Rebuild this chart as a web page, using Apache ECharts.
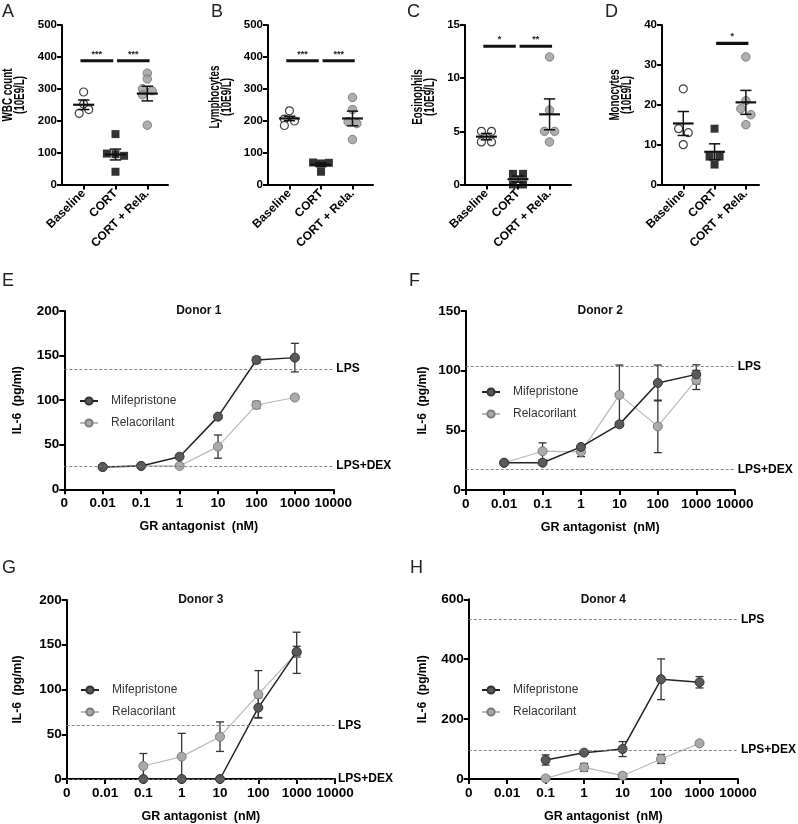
<!DOCTYPE html>
<html><head><meta charset="utf-8">
<script src="https://cdn.jsdelivr.net/npm/echarts@6/dist/echarts.min.js"></script>
<style>html,body{margin:0;padding:0;background:#fff}#c{width:798px;height:824px}</style>
</head><body><div id="c"></div>
<script>
// ---------- categories ----------
const groups = ['Baseline', 'CORT', 'CORT + Rela.'];
// ---------- A: WBC count ----------
const wbcBaseline = [290, 252, 235, 223];
const wbcCort = [158, 97, 95, 90, 40];
const wbcRela = [349, 331, 300, 294, 281, 186];
const wbcJitter = [[0, 0, 0.16, -0.14], [0, -0.27, 0, 0.27, 0], [0, 0, -0.15, 0.15, -0.15, 0]];
const wbcMean = [250, 94, 285];
const wbcSem = [15, 17, 23];
const wbcSig = [[0.9, 1.93, 388, '***'], [2.05, 3.07, 388, '***']];
// ---------- B: Lymphocytes ----------
const lymBaseline = [231, 205, 199, 185];
const lymCort = [69, 66, 68, 40];
const lymRela = [273, 235, 197, 191, 141];
const lymJitter = [[0, -0.16, 0.16, -0.16], [-0.25, 0, 0.25, 0], [0, 0, -0.14, 0.14, 0]];
const lymMean = [207, 62, 207];
const lymSem = [7, 6, 23];
const lymSig = [[0.9, 1.93, 388, '***'], [2.05, 3.07, 388, '***']];
// ---------- C: Eosinophils ----------
const eosBaseline = [5, 5, 4, 4];
const eosCort = [1, 1, 0, 0];
const eosRela = [12, 7, 5, 5, 4];
const eosJitter = [[-0.16, 0.16, -0.16, 0.16], [-0.16, 0.16, -0.16, 0.16], [0, 0, -0.16, 0.16, 0]];
const eosMean = [4.5, 0.5, 6.6];
const eosSem = [0.3, 0.29, 1.45];
const eosSig = [[0.9, 1.93, 13, '*'], [2.05, 3.08, 13, '**']];
// ---------- D: Monocytes ----------
const monoBaseline = [24, 14, 13, 10];
const monoCort = [14, 7, 7, 5];
const monoRela = [32, 21, 19, 17.5, 15];
const monoJitter = [[0, -0.15, 0.16, 0], [0, -0.16, 0.16, 0], [0, 0, -0.16, 0.16, 0]];
const monoMean = [15.3, 8.2, 20.6];
const monoSem = [3, 2, 3];
const monoSig = [[2.05, 3.08, 35.4, '*']];

// ---------- E-H: IL-6 vs GR antagonist ----------
const concX = [0.01, 0.1, 1, 10, 100, 1000];
const concXLabels = ['0', '0.01', '0.1', '1', '10', '100', '1000', '10000'];
const mifeE = [25, 26.2, 36.6, 81.5, 145, 147.7];
const mifeEErr = [0, 0, 0, 0, 3.5, 16];
const relaE = [25, 26.2, 26.2, 47.9, 94.6, 103];
const relaEErr = [0, 0, 0, 13, 4, 0];
const lpsE = 135, lpsDexE = 26.2;

const mifeF = [22.8, 22.8, 36.1, 55, 89.7, 96.9];
const mifeFErr = [0, 0, 0, 2, 15, 8];
const relaF = [22.8, 32.5, 32, 79.7, 53.3, 92.2];
const relaFErr = [0, 7, 4, 25, 22, 8];
const lpsF = 103.3, lpsDexF = 17.2;

const concXGH = [0.1, 1, 10, 100, 1000];
const mifeG = [0, 0, 0, 79.7, 142.3];
const mifeGErr = [0, 0, 0, 11, 6];
const relaG = [14.5, 25, 47.3, 94.6, 141];
const relaGErr = [14, 26, 16.5, 26.5, 23];
const lpsG = 60, lpsDexG = 0;

const mifeH = [63.5, 88, 100, 333, 323];
const mifeHErr = [17, 5, 25, 68, 19];
const relaH = [2, 39, 11, 67, 119];
const relaHErr = [0, 13, 8, 15, 0];
const lpsH = 533, lpsDexH = 97;

// ================= build =================
const FONT = 'Arial';
const grids = [], xAxes = [], yAxes = [], series = [], legends = [], graphics = [];

const groupStyles = [
  { symbol: 'circle', size: 8, itemStyle: { color: '#fff', borderColor: '#111', borderWidth: 1.2 } },
  { symbol: 'rect', size: 8, itemStyle: { color: '#000' } },
  { symbol: 'circle', size: 8.5, itemStyle: { color: '#9a9a9a', borderColor: '#6e6e6e', borderWidth: 1 } }
];

function meanRender(params, api) {
  const x = api.value(0), m = api.value(1), s = api.value(2);
  const a = api.coord([x - 0.33, m]), b = api.coord([x + 0.33, m]);
  const t = api.coord([x, m + s]), u = api.coord([x, m - s]);
  const c1 = api.coord([x - 0.18, m + s]), c2 = api.coord([x + 0.18, m + s]);
  const d1 = api.coord([x - 0.18, m - s]), d2 = api.coord([x + 0.18, m - s]);
  const st = { stroke: '#111', lineWidth: 1.5 };
  return { type: 'group', children: [
    { type: 'line', shape: { x1: t[0], y1: t[1], x2: u[0], y2: u[1] }, style: st },
    { type: 'line', shape: { x1: c1[0], y1: c1[1], x2: c2[0], y2: c2[1] }, style: st },
    { type: 'line', shape: { x1: d1[0], y1: d1[1], x2: d2[0], y2: d2[1] }, style: st },
    { type: 'line', shape: { x1: a[0], y1: a[1], x2: b[0], y2: b[1] }, style: { stroke: '#111', lineWidth: 2.2 } }
  ]};
}
function sigRenderFor(arr) {
  return function (params, api) {
    const d = arr[params.dataIndex];
    const a = api.coord([d[0], d[2]]), b = api.coord([d[1], d[2]]);
    return { type: 'group', children: [
      { type: 'line', shape: { x1: a[0], y1: a[1], x2: b[0], y2: b[1] }, style: { stroke: '#111', lineWidth: 3.2 } },
      { type: 'text', style: { text: d[3], x: (a[0] + b[0]) / 2, y: a[1] - 2, textAlign: 'center', align: 'center',
        textVerticalAlign: 'bottom', verticalAlign: 'bottom', font: 'bold 9px ' + FONT, fill: '#222' } }
    ]};
  };
}
function errRender(params, api) {
  const x = api.value(0), y = api.value(1), e = api.value(2);
  if (!(e > 0)) return null;
  const t = api.coord([x, y + e]), b = api.coord([x, y - e]);
  const cw = 4, st = { stroke: '#333', lineWidth: 1.3 };
  return { type: 'group', children: [
    { type: 'line', shape: { x1: t[0], y1: t[1], x2: b[0], y2: b[1] }, style: st },
    { type: 'line', shape: { x1: t[0] - cw, y1: t[1], x2: t[0] + cw, y2: t[1] }, style: st },
    { type: 'line', shape: { x1: b[0] - cw, y1: b[1], x2: b[0] + cw, y2: b[1] }, style: st }
  ]};
}

const axisLineBlack = { show: true, onZero: false, lineStyle: { color: '#000', width: 2 } };
const tickBlack = { show: true, length: 5, lineStyle: { color: '#000', width: 2 } };

const topPanels = [
  { letter: 'A', lx: 2, name: 'WBC count\n(10E9/L)', nx: 14, ny: 95, max: 500, interval: 100, vals: [wbcBaseline, wbcCort, wbcRela], jit: wbcJitter, mean: wbcMean, sem: wbcSem, sig: wbcSig, left: 62, width: 106, xmax: 3.65 },
  { letter: 'B', lx: 211, name: 'Lymphocytes\n(10E9/L)', nx: 221, ny: 97, max: 500, interval: 100, vals: [lymBaseline, lymCort, lymRela], jit: lymJitter, mean: lymMean, sem: lymSem, sig: lymSig, left: 268, width: 105, xmax: 3.65 },
  { letter: 'C', lx: 407, name: 'Eosinophils\n(10E9/L)', nx: 424, ny: 97, max: 15, interval: 5, vals: [eosBaseline, eosCort, eosRela], jit: eosJitter, mean: eosMean, sem: eosSem, sig: eosSig, left: 465, width: 106, xmax: 3.68 },
  { letter: 'D', lx: 605, name: 'Monocytes\n(10E9/L)', nx: 621, ny: 95, max: 40, interval: 10, vals: [monoBaseline, monoCort, monoRela], jit: monoJitter, mean: monoMean, sem: monoSem, sig: monoSig, left: 662, width: 97, xmax: 3.42 }
];

topPanels.forEach((p, i) => {
  grids.push({ left: p.left, top: 25, width: p.width, height: 159.5 });
  xAxes.push({ gridIndex: i, type: 'value', min: 0.32, max: p.xmax,
    axisLine: axisLineBlack, splitLine: { show: false },
    axisTick: Object.assign({ customValues: [1, 2, 3] }, tickBlack),
    axisLabel: { customValues: [1, 2, 3], rotate: 45, margin: 7, color: '#000', fontWeight: 'bold', fontSize: 12, fontFamily: FONT,
      formatter: v => groups[Math.round(v) - 1] || '' } });
  yAxes.push({ gridIndex: i, type: 'value', min: 0, max: p.max, interval: p.interval,
    axisLine: axisLineBlack, axisTick: tickBlack, splitLine: { show: false },
    axisLabel: { color: '#000', fontWeight: 'bold', fontSize: 11.5, fontFamily: FONT, margin: 5 } });
  p.vals.forEach((arr, g) => {
    const s = groupStyles[g];
    series.push({ type: 'scatter', xAxisIndex: i, yAxisIndex: i, symbol: s.symbol, symbolSize: s.size,
      itemStyle: s.itemStyle, z: 2, silent: true,
      data: arr.map((v, k) => [g + 1 + p.jit[g][k], v]) });
  });
  series.push({ type: 'custom', xAxisIndex: i, yAxisIndex: i, renderItem: meanRender, z: 3, silent: true,
    encode: { x: 0, y: 1 }, data: p.mean.map((m, g) => [g + 1, m, p.sem[g]]) });
  series.push({ type: 'custom', xAxisIndex: i, yAxisIndex: i, renderItem: sigRenderFor(p.sig), z: 3, silent: true,
    encode: { x: [0, 1], y: 2 }, data: p.sig.map(d => [d[0], d[1], d[2]]) });
  graphics.push({ type: 'text', x: p.lx, y: 3, style: { text: p.letter, font: '18px ' + FONT, fill: '#222' } });
  graphics.push({ type: 'text', x: p.nx, y: p.ny, rotation: Math.PI / 2, scaleX: 0.7,
    style: { text: p.name, font: 'bold 14px ' + FONT, fill: '#000', lineHeight: 11.5,
      textAlign: 'center', align: 'center', textVerticalAlign: 'middle', verticalAlign: 'middle' } });
});

const botPanels = [
  { letter: 'E', lx: 2, ly: 272, title: 'Donor 1', left: 64.3, top: 311, width: 269, height: 178.3, max: 200, interval: 50,
    x: concX, mife: mifeE, mifeErr: mifeEErr, rela: relaE, relaErr: relaEErr, lps: lpsE, dex: lpsDexE, gap: 41, legTop: 395, legLeft: 79 },
  { letter: 'F', lx: 409, ly: 272, title: 'Donor 2', left: 465.7, top: 311, width: 269, height: 179, max: 150, interval: 50,
    x: concX, mife: mifeF, mifeErr: mifeFErr, rela: relaF, relaErr: relaFErr, lps: lpsF, dex: lpsDexF, gap: 37, legTop: 386, legLeft: 481 },
  { letter: 'G', lx: 2, ly: 559, title: 'Donor 3', left: 66.7, top: 600, width: 268.3, height: 179, max: 200, interval: 50,
    x: concXGH, mife: mifeG, mifeErr: mifeGErr, rela: relaG, relaErr: relaGErr, lps: lpsG, dex: lpsDexG, gap: 43, legTop: 684, legLeft: 80 },
  { letter: 'H', lx: 410, ly: 559, title: 'Donor 4', left: 468.7, top: 599.3, width: 269.3, height: 179.7, max: 600, interval: 200,
    x: concXGH, mife: mifeH, mifeErr: mifeHErr, rela: relaH, relaErr: relaHErr, lps: lpsH, dex: lpsDexH, gap: 40, legTop: 684, legLeft: 481 }
];

botPanels.forEach((p, j) => {
  const i = j + 4;
  grids.push({ left: p.left, top: p.top, width: p.width, height: p.height });
  xAxes.push({ gridIndex: i, type: 'value', min: -3, max: 4, interval: 1,
    axisLine: axisLineBlack, axisTick: tickBlack, splitLine: { show: false },
    axisLabel: { color: '#000', fontWeight: 'bold', fontSize: 13.5, fontFamily: FONT, margin: 7,
      formatter: v => concXLabels[Math.round(v) + 3] },
    name: 'GR antagonist  (nM)', nameLocation: 'middle', nameGap: 31,
    nameTextStyle: { color: '#000', fontWeight: 'bold', fontSize: 12.5, fontFamily: FONT } });
  yAxes.push({ gridIndex: i, type: 'value', min: 0, max: p.max, interval: p.interval,
    axisLine: axisLineBlack, axisTick: tickBlack, splitLine: { show: false },
    axisLabel: { color: '#000', fontWeight: 'bold', fontSize: 13.5, fontFamily: FONT, margin: 5 },
    name: 'IL-6  (pg/ml)', nameLocation: 'middle', nameGap: p.gap, nameRotate: 90,
    nameTextStyle: { color: '#000', fontWeight: 'bold', fontSize: 12, fontFamily: FONT } });
  const lx = p.x.map(c => Math.log10(c));
  series.push({ type: 'custom', xAxisIndex: i, yAxisIndex: i, renderItem: errRender, z: 2, silent: true,
    encode: { x: 0, y: 1 }, data: lx.map((x, k) => [x, p.rela[k], p.relaErr[k]]) });
  series.push({ type: 'custom', xAxisIndex: i, yAxisIndex: i, renderItem: errRender, z: 2, silent: true,
    encode: { x: 0, y: 1 }, data: lx.map((x, k) => [x, p.mife[k], p.mifeErr[k]]) });
  series.push({ type: 'line', name: 'Relacorilant', xAxisIndex: i, yAxisIndex: i, z: 3, silent: true,
    symbol: 'circle', symbolSize: 9, showAllSymbol: true,
    itemStyle: { color: '#aaaaaa', borderColor: '#7a7a7a', borderWidth: 1 },
    lineStyle: { color: '#b8b8b8', width: 1.2 },
    data: lx.map((x, k) => [x, p.rela[k]]) });
  series.push({ type: 'line', name: 'Mifepristone', xAxisIndex: i, yAxisIndex: i, z: 4, silent: true,
    symbol: 'circle', symbolSize: 9, showAllSymbol: true,
    itemStyle: { color: '#5a5a5a', borderColor: '#333', borderWidth: 1 },
    lineStyle: { color: '#222', width: 1.5 },
    data: lx.map((x, k) => [x, p.mife[k]]),
    markLine: { silent: true, symbol: ['none', 'none'], animation: false,
      lineStyle: { type: [3, 2], color: '#777', width: 0.9 },
      label: { show: true, position: 'end', distance: 3, formatter: '{b}', color: '#000', fontWeight: 'bold', fontSize: 12, fontFamily: FONT },
      data: [{ yAxis: p.lps, name: 'LPS' }, { yAxis: p.dex, name: 'LPS+DEX' }] } });
  legends.push({ left: p.legLeft, top: p.legTop, padding: 0, orient: 'vertical', selectedMode: false,
    data: ['Mifepristone', 'Relacorilant'], itemWidth: 18, itemHeight: 9, itemGap: 10,
    textStyle: { fontSize: 12, color: '#333', fontFamily: FONT, padding: [0, 0, 0, 8] } });
  graphics.push({ type: 'text', x: p.lx, y: p.ly, style: { text: p.letter, font: '18px ' + FONT, fill: '#222' } });
  graphics.push({ type: 'text', x: p.left + p.width / 2, y: p.top, style: { text: p.title, font: 'bold 12px ' + FONT,
    fill: '#111', textAlign: 'center', align: 'center', textVerticalAlign: 'middle', verticalAlign: 'middle' } });
});

const chart = echarts.init(document.getElementById('c'));
chart.setOption({
  backgroundColor: '#fff',
  animation: false,
  grid: grids, xAxis: xAxes, yAxis: yAxes, series: series, legend: legends, graphic: graphics
});
</script></body></html>
